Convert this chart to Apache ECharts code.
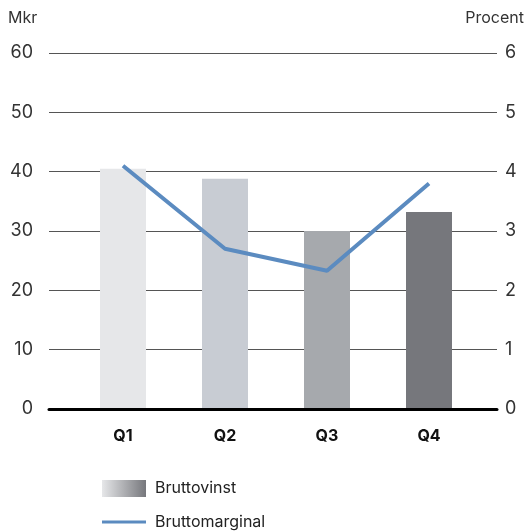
<!DOCTYPE html>
<html>
<head>
<meta charset="utf-8">
<script src="https://cdn.jsdelivr.net/npm/echarts@6/dist/echarts.min.js"></script>
<style>
  html, body { margin: 0; padding: 0; background: #fff; }
  #chart { width: 528px; height: 531px; }
</style>
</head>
<body>
<div id="chart"></div>
<script>
const quarters = ['Q1', 'Q2', 'Q3', 'Q4'];
const bruttovinst = [40.5, 38.8, 30.0, 33.2];
const bruttomarginal = [4.1, 2.7, 2.33, 3.8];
const barColors = ['#e6e7e9', '#c8ccd3', '#a6a9ad', '#76777c'];

const font = 'Inter, "Noto Sans", sans-serif';
const chart = echarts.init(document.getElementById('chart'));

chart.setOption({
  animation: false,
  textStyle: { fontFamily: font },
  grid: [
    { left: 49, right: 31, top: 53, bottom: 122 },
    { left: 72, right: 48, top: 53, bottom: 122 }
  ],
  graphic: [
    { type: 'text', left: 8, top: 10, style: { text: 'Mkr', font: '16px ' + font, fill: '#333' } },
    { type: 'text', right: 4, top: 10, style: { text: 'Procent', font: '16px ' + font, fill: '#333' } }
  ],
  legend: {
    orient: 'vertical',
    left: 102,
    top: 480,
    height: 80,
    padding: 0,
    itemWidth: 44,
    itemHeight: 17,
    itemGap: 17,
    textStyle: { fontSize: 16, color: '#222', padding: [0, 0, 0, 4] },
    data: [
      { name: 'Bruttovinst', icon: 'rect' },
      { name: 'Bruttomarginal', icon: 'path://M0,0H44V3H0Z' }
    ]
  },
  xAxis: [
    {
      gridIndex: 0, type: 'category', data: quarters, z: 5,
      axisLine: { lineStyle: { color: '#000', width: 3 } },
      axisTick: { show: false }, axisLabel: { show: false }
    },
    {
      gridIndex: 1, type: 'category', data: quarters,
      axisLine: { show: false }, axisTick: { show: false },
      axisLabel: { margin: 19, fontSize: 16, fontWeight: 'bold', color: '#111' }
    }
  ],
  yAxis: [
    {
      gridIndex: 0, type: 'value', min: 0, max: 60, interval: 10,
      axisLabel: { fontSize: 18, color: '#333', margin: 16 },
      splitLine: { lineStyle: { color: '#555', width: 1 } }
    },
    {
      gridIndex: 0, type: 'value', position: 'right', min: 0, max: 6, interval: 1,
      axisLabel: { fontSize: 18, color: '#333', margin: 8 },
      splitLine: { show: false }
    },
    { gridIndex: 1, type: 'value', min: 0, max: 60, show: false, splitLine: { show: false } },
    { gridIndex: 1, type: 'value', min: 0, max: 6, show: false, splitLine: { show: false } }
  ],
  series: [
    {
      name: 'Bruttovinst',
      type: 'bar',
      xAxisIndex: 1,
      yAxisIndex: 2,
      barWidth: 46,
      itemStyle: {
        color: new echarts.graphic.LinearGradient(0, 0, 1, 0, [
          { offset: 0, color: '#e6e7e9' },
          { offset: 1, color: '#76777c' }
        ])
      },
      data: bruttovinst.map((v, i) => ({ value: v, itemStyle: { color: barColors[i] } }))
    },
    {
      name: 'Bruttomarginal',
      type: 'line',
      xAxisIndex: 1,
      yAxisIndex: 3,
      symbol: 'none',
      lineStyle: { color: '#5b8bc0', width: 4 },
      itemStyle: { color: '#5b8bc0' },
      data: bruttomarginal
    }
  ]
});
</script>
</body>
</html>
